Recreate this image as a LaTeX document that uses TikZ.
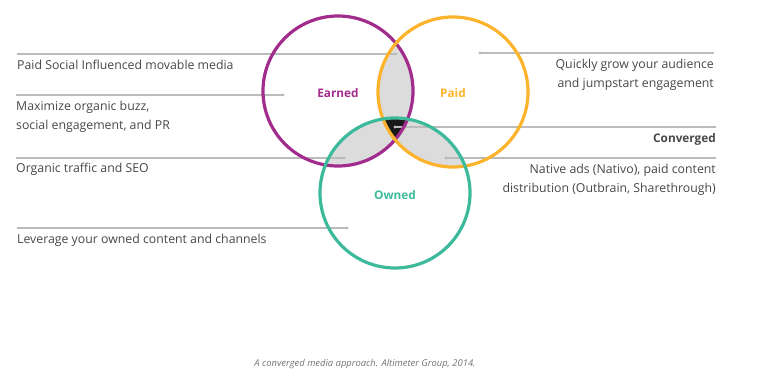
\documentclass[tikz,border=0pt]{standalone}
\usepackage{fontspec}
\setmainfont{Open Sans}
\definecolor{earned}{HTML}{A22C8C}
\definecolor{paid}{HTML}{FDB32B}
\definecolor{owned}{HTML}{3DB99B}
\definecolor{lapgray}{HTML}{DCDCDC}
\definecolor{leader}{HTML}{BBBBBB}
\definecolor{ink}{HTML}{474747}
\begin{document}
\begin{tikzpicture}[x=1pt,y=-1pt,
	ring/.style={line width=3.2pt},
	lead/.style={draw=leader,line width=1.1pt},
	tip/.style={fill=leader},
	note/.style={inner sep=0pt,text=ink,font=\fontsize{12.3}{18.5}\selectfont},
	tag/.style={inner sep=0pt,font=\fontsize{11.8}{14}\selectfont\bfseries}]
	\useasboundingbox (0,0) rectangle (758,388);
	\coordinate (E) at (338,91);
	\coordinate (P) at (453,92);
	\coordinate (O) at (395,193);
	% overlaps
	\begin{scope}
		\clip (E) circle (75);
		\fill[lapgray] (P) circle (75);
		\fill[lapgray] (O) circle (75);
	\end{scope}
	\begin{scope}
		\clip (P) circle (75);
		\fill[lapgray] (O) circle (75);
	\end{scope}
	\begin{scope}
		\clip (E) circle (75);
		\clip (P) circle (75);
		\fill[black!90] (O) circle (75);
	\end{scope}
	% leader lines
	\coordinate (l1) at (17,54);   \coordinate (e1) at (396,54);
	\coordinate (l2) at (16,95);   \coordinate (e2) at (283,95);
	\coordinate (l3) at (16,158);  \coordinate (e3) at (344,158);
	\coordinate (l4) at (17,228);  \coordinate (e4) at (347,228);
	\coordinate (r1) at (714,53);  \coordinate (f1) at (480,53);
	\coordinate (r2) at (716,127); \coordinate (f2) at (395,127);
	\coordinate (r3) at (716,158); \coordinate (f3) at (446,158);
	\draw[lead] (l1) -- (e1);
	\draw[lead] (l2) -- (e2);
	\draw[lead] (l3) -- (e3);
	\draw[lead] (l4) -- (e4);
	\draw[lead] (r1) -- (f1);
	\draw[lead] (r2) -- (f2);
	\draw[lead] (r3) -- (f3);
	\foreach \p in {e1,e2,e3,e4,f1,f2,f3}
		\fill[tip] (\p) circle (1.6);
	% rings
	\draw[ring,earned] (E) circle (75);
	\draw[ring,paid] (P) circle (75);
	\draw[ring,owned] (O) circle (75);
	\path (E) ++(0,2) node [tag,text=earned] (earnedtag) {Earned};
	\path (P) ++(0,1) node [tag,text=paid] (paidtag) {Paid};
	\path (O) ++(0,2) node [tag,text=owned] (ownedtag) {Owned};
	% notes (multi-line ones hang from their last line)
	\path (17,69) node [note,anchor=base west] (social) {Paid Social Influenced movable media};
	\path (16,129) node [note,anchor=base west,align=left] (buzz) {Maximize organic buzz,\\social engagement, and PR};
	\path (16,172) node [note,anchor=base west] (seo) {Organic traffic and SEO};
	\path (17,243) node [note,anchor=base west] (leverage) {Leverage your owned content and channels};
	\path (714,87) node [note,anchor=base east,align=right] (grow) {Quickly grow your audience\\and jumpstart engagement};
	\path (716,142) node [note,anchor=base east,font=\fontsize{11.8}{14}\selectfont\bfseries] (conv) {Converged};
	\path (716,192) node [note,anchor=base east,align=right] (native) {Native ads (Nativo), paid content\\distribution (Outbrain, Sharethrough)};
	\path (365,366) node [inner sep=0pt,anchor=base,text=black!55,font=\fontsize{9.4}{10}\selectfont\itshape] (caption) {A converged media approach. Altimeter Group, 2014.};
\end{tikzpicture}
\end{document}
